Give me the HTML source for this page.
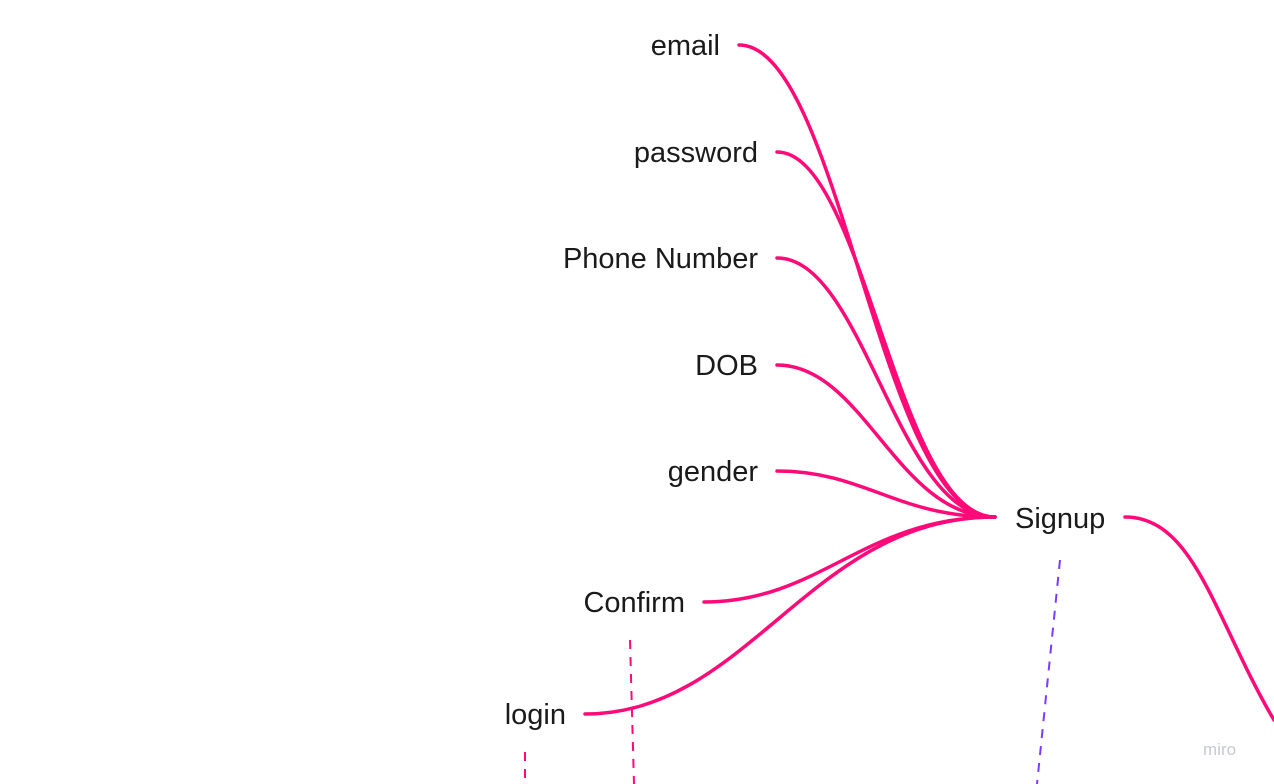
<!DOCTYPE html>
<html><head><meta charset="utf-8"><style>
html,body{margin:0;padding:0;background:#fff;}
svg{display:block;}
text{font-family:"Liberation Sans",sans-serif;fill:#1a1a1a;font-size:29px;}
</style></head><body>
<svg id="map" width="1274" height="784" viewBox="0 0 1274 784" xmlns="http://www.w3.org/2000/svg">
<g id="links"></g>
<g id="labels"></g>
<text x="1015" y="528">Signup</text>
<path d="M1125,517 C1195,517 1215,620 1274,720" fill="none" stroke="#ff0a78" stroke-width="3.5" stroke-linecap="round"/>
<line x1="630" y1="640" x2="634" y2="784" stroke="#ff0a78" stroke-width="2" stroke-dasharray="9,8"/>
<line x1="525" y1="752" x2="525" y2="784" stroke="#ff0a78" stroke-width="2" stroke-dasharray="9,8"/>
<line x1="1060" y1="560" x2="1037" y2="784" stroke="#7a3cff" stroke-width="2" stroke-dasharray="9,8"/>
<text x="1203" y="755" style="font-size:17px;fill:#c6c9d6;">miro</text>
</svg>
<script>
const labels = ["email","password","Phone Number","DOB","gender","Confirm","login"];
const labelRight = [720,758,758,758,758,685,566];
const baselines = [55,162,268,375,481,612,724];
const target = [995,517];
const ns = "http://www.w3.org/2000/svg";
const L = document.getElementById('links'), T = document.getElementById('labels');
labels.forEach((lab,i)=>{
  const t = document.createElementNS(ns,'text');
  t.setAttribute('x', labelRight[i]);
  t.setAttribute('y', baselines[i]);
  t.setAttribute('text-anchor','end');
  t.textContent = lab;
  
  
  T.appendChild(t);
  const x1 = labelRight[i] + 19, y1 = baselines[i] - 10;
  const dx = target[0] - x1;
  const c1 = x1 + 0.4 * dx, c2 = x1 + 0.55 * dx;
  const p = document.createElementNS(ns,'path');
  p.setAttribute('d', `M${x1},${y1} C${c1},${y1} ${c2},${target[1]} ${target[0]},${target[1]}`);
  p.setAttribute('fill','none');
  p.setAttribute('stroke','#ff0a78');
  p.setAttribute('stroke-width','3.5');
  p.setAttribute('stroke-linecap','round');
  
  
  L.appendChild(p);
});
</script>
</body></html>
